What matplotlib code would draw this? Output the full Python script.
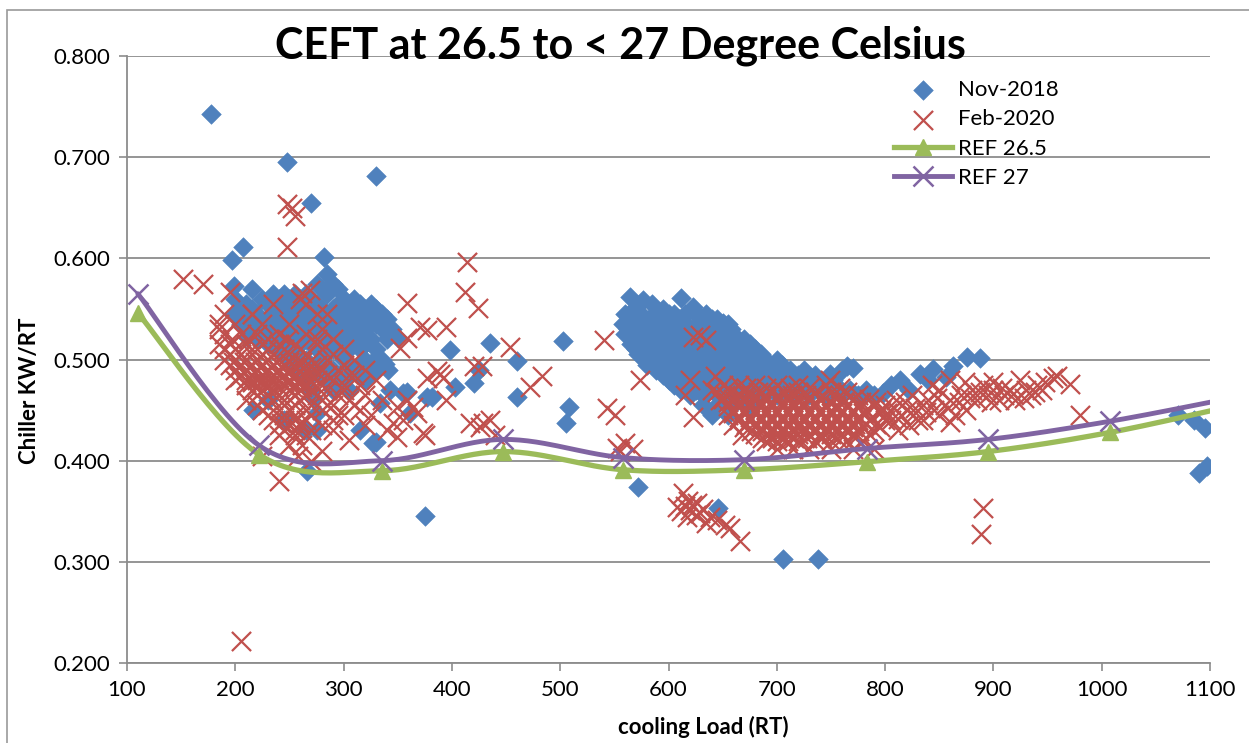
import numpy as np
import matplotlib
matplotlib.use("Agg")
import matplotlib.pyplot as plt
from matplotlib.patches import Rectangle

plt.rcParams['font.family'] = ['Lato', 'DejaVu Sans']

# ---- data ----
# Nov-2018: scattered points (load RT, kW/RT)
nov_scatter = [
    (178, 0.743), (248, 0.695), (330, 0.681), (270, 0.655), (207, 0.611), (197, 0.598),
    (199, 0.573), (215, 0.570), (282, 0.601), (285, 0.585), (290, 0.575), (275, 0.575),
    (280, 0.570), (295, 0.570), (285, 0.565),
    (375, 0.345), (572, 0.374), (646, 0.353), (706, 0.303), (738, 0.303), (266, 0.390),
    (1070, 0.445), (1085, 0.440), (1095, 0.432), (1090, 0.388), (1097, 0.395),
    (435, 0.516), (503, 0.518), (398, 0.509), (460, 0.499), (460, 0.463), (508, 0.453),
    (505, 0.437), (420, 0.477), (403, 0.473), (425, 0.490), (382, 0.463), (377, 0.463),
    (361, 0.447), (355, 0.467), (343, 0.470), (338, 0.496), (327, 0.499), (315, 0.430),
    (327, 0.417), (330, 0.418), (349, 0.522), (341, 0.490), (359, 0.468), (334, 0.457),
    (216, 0.450), (230, 0.460), (245, 0.440), (275, 0.447), (275, 0.430), (272, 0.462),
    (265, 0.430), (211, 0.522), (278, 0.489),
    (685, 0.499), (721, 0.480), (765, 0.494), (749, 0.486), (733, 0.477), (718, 0.480),
    (703, 0.486), (783, 0.468), (798, 0.467), (814, 0.480), (832, 0.486), (844, 0.491),
    (856, 0.483), (863, 0.494), (876, 0.502), (888, 0.501), (777, 0.463), (770, 0.492),
    (760, 0.490), (805, 0.475), (822, 0.470), (840, 0.480),
    (564, 0.562), (576, 0.559), (570, 0.552), (585, 0.555), (595, 0.550), (612, 0.561),
    (623, 0.552), (605, 0.545), (635, 0.545), (650, 0.536), (640, 0.540),
]
# Nov-2018 dense clusters: kW/RT row -> loads
nov_left_rows = {
    0.565: [235, 245, 255, 265],
    0.560: [200, 225, 240, 250, 260, 270, 300, 310],
    0.555: [210, 230, 245, 255, 265, 275, 295, 305, 315, 325],
    0.550: [205, 215, 235, 250, 260, 280, 290, 300, 310, 320, 330],
    0.545: [200, 220, 240, 255, 270, 285, 295, 305, 320, 335],
    0.540: [210, 230, 245, 260, 275, 290, 300, 315, 325, 340],
    0.535: [205, 220, 235, 250, 265, 280, 295, 310, 330],
    0.530: [215, 230, 245, 260, 270, 285, 300, 320, 335, 345],
    0.525: [225, 240, 255, 275, 290, 305, 315],
    0.520: [220, 235, 250, 265, 280, 295, 310, 325, 340],
    0.515: [230, 245, 260, 270, 300, 320],
    0.510: [240, 255, 275, 290, 305, 315, 330],
    0.500: [250, 265, 280, 300, 320, 335],
    0.490: [260, 275, 290, 310, 330],
    0.480: [265, 285, 300, 320],
    0.470: [270, 290, 305],
}
nov_right_rows = {
    0.545: [560, 575, 590, 600, 615, 625],
    0.540: [566, 582, 596, 610, 630, 645],
    0.535: [558, 568, 580, 592, 604, 616, 628, 642, 655],
    0.530: [563, 576, 590, 603, 616, 630, 645, 658],
    0.525: [560, 572, 585, 598, 610, 622, 635, 648, 660],
    0.520: [566, 580, 594, 606, 618, 632, 645, 658, 670],
    0.515: [565, 578, 590, 603, 615, 628, 640, 652, 665, 675],
    0.510: [570, 582, 595, 608, 620, 632, 645, 658, 670, 680],
    0.505: [572, 585, 598, 610, 622, 635, 648, 660, 672, 685],
    0.500: [578, 590, 602, 615, 628, 640, 652, 665, 678, 690, 700],
    0.495: [580, 592, 605, 618, 630, 642, 655, 668, 680, 692, 705],
    0.490: [588, 600, 612, 625, 638, 650, 662, 675, 688, 700, 712, 725],
    0.485: [595, 608, 620, 632, 645, 658, 670, 683, 695, 708, 720, 735],
    0.480: [600, 612, 625, 638, 650, 662, 675, 688, 700, 712, 738, 752],
    0.475: [605, 618, 630, 642, 655, 668, 680, 692, 705, 718, 730, 745, 755],
    0.470: [612, 625, 638, 650, 662, 675, 690, 708, 722, 738, 752, 768, 782],
    0.465: [620, 632, 645, 658, 670, 683, 700, 715, 730, 745, 760, 775, 790],
    0.455: [632, 645, 660, 675],
    0.445: [640, 655],
}

# Feb-2020: scattered points
feb_scatter = [
    (205, 0.222), (152, 0.580), (170, 0.575), (195, 0.567), (248, 0.654), (252, 0.650),
    (255, 0.642), (248, 0.611), (414, 0.596), (412, 0.567), (424, 0.551), (240, 0.380),
    (359, 0.556), (262, 0.566), (269, 0.569), (395, 0.532), (377, 0.529), (359, 0.521),
    (352, 0.511), (454, 0.512), (386, 0.489), (377, 0.482), (392, 0.482), (420, 0.494),
    (428, 0.494), (395, 0.460), (359, 0.460), (349, 0.453), (364, 0.453), (346, 0.437),
    (355, 0.440), (373, 0.427), (417, 0.437), (429, 0.437), (349, 0.423), (340, 0.430),
    (435, 0.440), (440, 0.425), (540, 0.519), (483, 0.484), (472, 0.473), (574, 0.480),
    (543, 0.452), (551, 0.445), (555, 0.410), (567, 0.412), (426, 0.433), (375, 0.425),
    (371, 0.532), (389, 0.486), (368, 0.447), (623, 0.522), (623, 0.443), (629, 0.524),
    (635, 0.519), (643, 0.484), (615, 0.465), (620, 0.480), (560, 0.417), (552, 0.413),
    (613, 0.368), (620, 0.351), (608, 0.354), (629, 0.348), (626, 0.358), (638, 0.344),
    (617, 0.344), (645, 0.341), (652, 0.336), (657, 0.333), (666, 0.321), (635, 0.338),
    (622, 0.356), (632, 0.352), (612, 0.350), (618, 0.360), (625, 0.346), (615, 0.355),
    (185, 0.530), (215, 0.545), (235, 0.555), (260, 0.560), (275, 0.545), (280, 0.530),
    (290, 0.520), (300, 0.510), (310, 0.500), (320, 0.490), (330, 0.480), (300, 0.470),
    (310, 0.455), (325, 0.445), (335, 0.460), (290, 0.430), (305, 0.420), (320, 0.435),
    (280, 0.410), (270, 0.400), (295, 0.445), (285, 0.455), (265, 0.555), (285, 0.545),
    (275, 0.520), (305, 0.485), (315, 0.475),
    (640, 0.470), (648, 0.460), (655, 0.445), (660, 0.435), (668, 0.425),
    (800, 0.455), (805, 0.440), (810, 0.460), (815, 0.445), (820, 0.450), (825, 0.465),
    (830, 0.440), (835, 0.455), (840, 0.460), (845, 0.450), (850, 0.470), (855, 0.455),
    (860, 0.460), (865, 0.445), (870, 0.465), (875, 0.450), (880, 0.470), (885, 0.460),
    (890, 0.475), (895, 0.465), (900, 0.470), (905, 0.460), (910, 0.465), (915, 0.470),
    (920, 0.460), (925, 0.480), (930, 0.470), (935, 0.465), (940, 0.475), (945, 0.470),
    (955, 0.482), (959, 0.484), (971, 0.476), (980, 0.445), (890, 0.353), (889, 0.328),
    (812, 0.430), (822, 0.435), (835, 0.440), (850, 0.445), (860, 0.438), (874, 0.478),
    (900, 0.478), (843, 0.475), (860, 0.480), (749, 0.480),
    (808, 0.452), (818, 0.458), (828, 0.452), (838, 0.448), (848, 0.462), (858, 0.452),
    (868, 0.458), (878, 0.462), (888, 0.468), (898, 0.458), (908, 0.472), (918, 0.466),
    (928, 0.462), (938, 0.468), (948, 0.478), (802, 0.447), (812, 0.441), (826, 0.445),
]
feb_left_rows = {
    0.545: [190, 215],
    0.535: [185, 200, 225, 250],
    0.525: [190, 205, 220, 240, 265],
    0.520: [197, 212, 230, 248],
    0.515: [185, 195, 210, 225, 240, 255, 275],
    0.510: [190, 200, 215, 230, 245, 260, 280],
    0.505: [195, 205, 215, 225, 235, 250, 265, 290],
    0.500: [190, 200, 210, 220, 230, 240, 255, 270, 285],
    0.4975: [198, 208, 218, 228, 238, 250, 262],
    0.495: [195, 205, 215, 225, 235, 245, 260, 275, 300],
    0.4925: [203, 213, 223, 233, 243, 255, 270],
    0.490: [200, 210, 220, 230, 240, 250, 265, 280, 295],
    0.4875: [208, 218, 228, 238, 248, 260, 275],
    0.485: [205, 215, 225, 235, 245, 255, 270, 285, 310],
    0.4825: [203, 213, 223, 233, 243, 253, 265],
    0.480: [200, 210, 220, 230, 240, 250, 260, 275, 290],
    0.4775: [215, 225, 235, 250, 260, 270],
    0.475: [210, 220, 230, 245, 255, 265, 280, 300],
    0.4725: [218, 228, 240, 252, 262, 275],
    0.470: [215, 225, 235, 250, 260, 270, 285],
    0.465: [220, 230, 240, 255, 265, 275, 295, 320],
    0.460: [210, 225, 235, 245, 260, 280, 305],
    0.455: [220, 230, 245, 255, 270, 290],
    0.450: [225, 240, 250, 265, 280, 315],
    0.445: [230, 245, 255, 270, 300],
    0.440: [235, 245, 255, 265, 290],
    0.4375: [242, 252, 260],
    0.435: [240, 250, 260, 280],
    0.430: [245, 255, 270],
    0.425: [240, 255, 265],
    0.415: [250, 262],
    0.405: [225, 258],
}
feb_right_rows = {
    0.475: [650, 665, 680, 700, 720, 745],
    0.4715: [655, 672, 690, 712, 730, 758],
    0.468: [645, 658, 670, 683, 695, 708, 720, 735, 750, 765],
    0.4645: [652, 664, 676, 689, 701, 714, 727, 742, 758, 775],
    0.461: [650, 660, 670, 680, 690, 700, 710, 720, 730, 740, 755, 770, 785],
    0.4575: [655, 665, 675, 685, 695, 705, 715, 725, 735, 748, 762, 778, 792],
    0.454: [655, 665, 675, 685, 695, 705, 715, 725, 735, 745, 755, 765, 775, 790],
    0.4505: [660, 670, 680, 690, 700, 710, 720, 730, 740, 750, 760, 770, 782, 796],
    0.447: [660, 670, 680, 690, 700, 710, 720, 730, 740, 750, 760, 770, 780, 795],
    0.4435: [665, 675, 685, 695, 705, 715, 725, 735, 745, 755, 765, 775, 788],
    0.440: [665, 675, 685, 695, 705, 715, 725, 735, 745, 755, 765, 775, 785, 800],
    0.4365: [672, 682, 692, 702, 712, 722, 732, 742, 752, 762, 772, 782, 792],
    0.433: [670, 680, 690, 700, 710, 720, 730, 740, 750, 760, 770, 780, 795],
    0.4295: [676, 686, 696, 706, 716, 726, 736, 746, 756, 766, 776, 790],
    0.426: [680, 690, 700, 710, 720, 730, 740, 750, 760, 770, 785],
    0.4225: [686, 696, 706, 716, 728, 742, 756, 772],
    0.419: [690, 700, 710, 720, 735, 750, 765, 780],
    0.412: [700, 715, 730, 750, 770, 790],
}

# reference curves
ref_load = [110, 222, 335, 447, 558, 670, 783, 895, 1008, 1120]
ref_265 = [0.546, 0.406, 0.390, 0.409, 0.391, 0.391, 0.399, 0.409, 0.428, 0.454]
ref_27 = [0.565, 0.415, 0.400, 0.421, 0.403, 0.401, 0.412, 0.421, 0.439, 0.462]

BLUE = '#4F81BD'
RED = '#C0504D'
GREEN = '#9BBB59'
PURPLE = '#8064A2'
GRID = '#8C8C8C'


def collect(points, rows):
    xs = [p[0] for p in points]
    ys = [p[1] for p in points]
    for r in rows:
        for yv, xl in r.items():
            xs += xl
            ys += [yv] * len(xl)
    return xs, ys


def smooth(x, y, n=30):
    # Excel-style smoothed line (Catmull-Rom bezier)
    x = np.asarray(x, float)
    y = np.asarray(y, float)
    px = np.concatenate([[x[0]], x, [x[-1]]])
    py = np.concatenate([[y[0]], y, [y[-1]]])
    t = np.linspace(0, 1, n)
    ox, oy = [], []
    for i in range(1, len(px) - 2):
        p0 = np.array([px[i], py[i]])
        p3 = np.array([px[i + 1], py[i + 1]])
        p1 = p0 + (np.array([px[i + 1], py[i + 1]]) - np.array([px[i - 1], py[i - 1]])) / 6
        p2 = p3 - (np.array([px[i + 2], py[i + 2]]) - np.array([px[i], py[i]])) / 6
        b = ((1 - t) ** 3)[:, None] * p0 + (3 * (1 - t) ** 2 * t)[:, None] * p1 \
            + (3 * (1 - t) * t ** 2)[:, None] * p2 + (t ** 3)[:, None] * p3
        ox += list(b[:, 0])
        oy += list(b[:, 1])
    return ox, oy


nov_x, nov_y = collect(nov_scatter, [nov_left_rows, nov_right_rows])
feb_x, feb_y = collect(feb_scatter, [feb_left_rows, feb_right_rows])

fig = plt.figure(figsize=(12.49, 7.43), dpi=100)
ax = fig.add_axes([127 / 1249, 1 - 663 / 743, (1210 - 127) / 1249, (663 - 56) / 743])

ax.scatter(nov_x, nov_y, marker='D', s=100, color=BLUE, linewidths=0.4, edgecolors=BLUE,
           label='Nov-2018', zorder=3)
ax.scatter(feb_x, feb_y, marker='x', s=190, color=RED, linewidths=1.6,
           label='Feb-2020', zorder=4)

sx, sy = smooth(ref_load, ref_265)
ax.plot(sx, sy, color=GREEN, lw=3.8, zorder=5, solid_capstyle='round')
ax.plot(ref_load, ref_265, ls='none', marker='^', ms=12, color=GREEN, zorder=6)
sx, sy = smooth(ref_load, ref_27)
ax.plot(sx, sy, color=PURPLE, lw=3.5, zorder=5, solid_capstyle='round')
ax.plot(ref_load, ref_27, ls='none', marker='x', ms=14, mew=1.8, color=PURPLE, zorder=6)

# legend proxies
ax.plot([], [], color=GREEN, lw=3.8, marker='^', ms=12, label='REF 26.5')
ax.plot([], [], color=PURPLE, lw=3.5, marker='x', ms=14, mew=1.8, label='REF 27')

ax.set_xlim(100, 1100)
ax.set_ylim(0.2, 0.8)
ax.set_xticks(np.arange(100, 1101, 100))
ax.set_yticks(np.arange(0.2, 0.81, 0.1))
ax.set_yticklabels([f'{v:.3f}' for v in np.arange(0.2, 0.81, 0.1)])
ax.yaxis.grid(True, color=GRID, lw=1.3)
ax.set_axisbelow(True)
for s in ['top', 'right']:
    ax.spines[s].set_visible(False)
for s in ['left', 'bottom']:
    ax.spines[s].set_color(GRID)
    ax.spines[s].set_linewidth(1.3)
ax.tick_params(axis='both', direction='out', length=6, width=1.2, color=GRID,
               labelsize=16, pad=6)

handles, labels = ax.get_legend_handles_labels()
leg = ax.legend(handles, labels, loc='upper left', bbox_to_anchor=(0.70, 0.975),
                frameon=False, fontsize=16, handlelength=2.6, labelspacing=0.42,
                handletextpad=0.3, borderaxespad=0)

fig.text(0.497, 1 - 46 / 743, 'CEFT at 26.5 to < 27 Degree Celsius', ha='center',
         va='center', fontsize=31, fontweight='bold')
fig.text(30 / 1249, 1 - 391 / 743, 'Chiller KW/RT', rotation=90, ha='center',
         va='center', fontsize=16, fontweight='bold')
fig.text(703 / 1249, 1 - 727 / 743, 'cooling Load (RT)', ha='center', va='center',
         fontsize=16, fontweight='bold')

fig.patches.append(Rectangle((7 / 1249, -0.1), 1.2, 1.1 - 10 / 743, transform=fig.transFigure,
                             fill=False, edgecolor='#9A9A9A', lw=1.2))

fig.savefig('out.png', dpi=100)
